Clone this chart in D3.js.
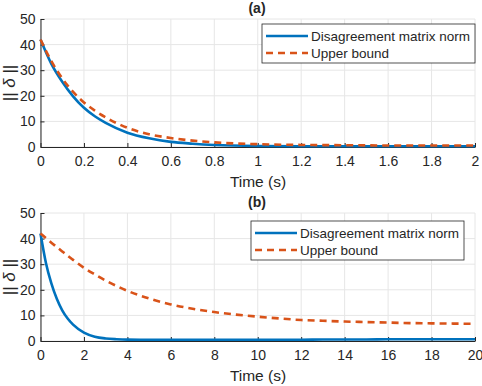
<!DOCTYPE html>
<html>
<head>
<meta charset="utf-8">
<script src="https://cdn.jsdelivr.net/npm/d3@7"></script>
<style>
  body { margin: 0; background: #fff; }
  text { font-family: "Liberation Sans", Arial, sans-serif; fill: #262626; }
</style>
</head>
<body>
<script>
// Two panels: disagreement matrix norm vs its upper bound

// panel (a) samples, 0..2 s
let timeA  = [0, 0.05, 0.1, 0.15, 0.2, 0.25, 0.3, 0.4, 0.5, 0.6, 0.7, 0.8, 1.0, 1.2, 1.4, 1.6, 1.8, 2.0];
let normA  = [42, 32.5, 25.5, 19.8, 15.3, 12, 9.4, 5.6, 3.4, 2.0, 1.3, 0.8, 0.4, 0.3, 0.3, 0.3, 0.3, 0.3];
let boundA = [42, 33.5, 26.8, 21.5, 17.4, 14.2, 11.6, 7.5, 5.0, 3.5, 2.5, 1.8, 1.1, 0.8, 0.7, 0.6, 0.6, 0.6];

// panel (b) samples, 0..20 s
let timeB  = [0, 0.25, 0.5, 0.75, 1, 1.25, 1.5, 2, 2.5, 3, 3.5, 4, 5, 6, 7, 8, 9, 10, 11, 12, 13, 14, 15, 16, 17, 18, 19, 20];
let normB  = [42, 30.5, 22.5, 16.5, 12, 8.8, 6.4, 3.3, 1.7, 1.0, 0.7, 0.55, 0.5, 0.5, 0.5, 0.5, 0.5, 0.5, 0.5, 0.5, 0.6, 0.6, 0.6, 0.7, 0.7, 0.7, 0.7, 0.7];
let boundB = [42, 40.2, 38.4, 36.7, 35, 33.3, 31.7, 28.6, 26, 23.6, 21.5, 19.6, 16.6, 14.3, 12.6, 11.3, 10.3, 9.5, 8.8, 8.2, 7.9, 7.6, 7.4, 7.2, 7.0, 6.9, 6.8, 6.7];

let yTicks = [0, 10, 20, 30, 40, 50];
let xTicksA = [0, 0.2, 0.4, 0.6, 0.8, 1, 1.2, 1.4, 1.6, 1.8, 2];
let xTicksB = [0, 2, 4, 6, 8, 10, 12, 14, 16, 18, 20];
let seriesNames = ["Disagreement matrix norm", "Upper bound"];

let svgWidth = 482;
let svgHeight = 386;
let blue = "#0072BD";
let orange = "#D95319";

let svg = d3.select("body")
            .append("svg")
            .attr("width", svgWidth)
            .attr("height", svgHeight);

function drawPanel(opt) {
    let x = d3.scaleLinear().domain(opt.xDomain).range([40.5, 475]);
    let y = d3.scaleLinear().domain([0, 50]).range([opt.bottom, opt.top]);
    let g = svg.append("g");

    // grid
    g.selectAll(".gx").data(opt.xTicks).enter().append("line")
     .attr("x1", d => x(d)).attr("x2", d => x(d))
     .attr("y1", y(0)).attr("y2", y(50))
     .attr("stroke", "#e6e6e6");
    g.selectAll(".gy").data(yTicks).enter().append("line")
     .attr("x1", x.range()[0]).attr("x2", x.range()[1])
     .attr("y1", d => y(d)).attr("y2", d => y(d))
     .attr("stroke", "#e6e6e6");

    // axes (ticks pointing inward)
    let xAxis = g.append("g")
                 .attr("transform", `translate(0, ${y(0)})`)
                 .call(d3.axisBottom(x).tickValues(opt.xTicks).tickSizeInner(-4).tickSizeOuter(0).tickPadding(9)
                         .tickFormat(d3.format("~g")));
    let yAxis = g.append("g")
                 .attr("transform", `translate(${x.range()[0]}, 0)`)
                 .call(d3.axisLeft(y).tickValues(yTicks).tickSizeInner(-4).tickSizeOuter(0).tickPadding(5));
    [xAxis, yAxis].forEach(a => {
        a.select(".domain").attr("stroke", "#262626");
        a.selectAll(".tick line").attr("stroke", "#262626");
        a.selectAll("text").attr("font-size", "14px").attr("fill", "#262626")
         .attr("font-family", "Liberation Sans, Arial, sans-serif");
    });

    // lines
    let line = d3.line().x((d, i) => x(opt.time[i])).y(d => y(d)).curve(d3.curveMonotoneX);
    g.append("path")
     .datum(opt.norm)
     .attr("d", line)
     .attr("fill", "none")
     .attr("stroke", blue)
     .attr("stroke-width", 2.6);
    g.append("path")
     .datum(opt.bound)
     .attr("d", line)
     .attr("fill", "none")
     .attr("stroke", orange)
     .attr("stroke-width", 2.6)
     .attr("stroke-dasharray", "7,5");

    // title
    g.append("text")
     .attr("x", 257).attr("y", opt.top - 6)
     .attr("text-anchor", "middle")
     .attr("font-size", "14px").attr("font-weight", "bold")
     .text(opt.title);

    // axis labels
    g.append("text")
     .attr("x", 258).attr("y", opt.bottom + 40)
     .attr("text-anchor", "middle")
     .attr("font-size", "15.5px")
     .text("Time (s)");
    let yl = g.append("text")
              .attr("transform", `translate(15, ${(opt.top + opt.bottom) / 2}) rotate(-90)`)
              .attr("text-anchor", "middle")
              .attr("font-size", "17px");
    yl.append("tspan").text("|| ");
    yl.append("tspan").attr("font-style", "italic").text("δ");
    yl.append("tspan").text(" ||");

    // legend
    let lg = g.append("g").attr("transform", `translate(${opt.legend[0]}, ${opt.legend[1]})`);
    lg.append("rect")
      .attr("width", 213).attr("height", 39)
      .attr("fill", "#fff").attr("stroke", "#262626").attr("stroke-width", 0.8);
    seriesNames.forEach((name, i) => {
        lg.append("line")
          .attr("x1", 4).attr("x2", 46)
          .attr("y1", 12 + i * 17).attr("y2", 12 + i * 17)
          .attr("stroke", i === 0 ? blue : orange)
          .attr("stroke-width", 2.6)
          .attr("stroke-dasharray", i === 0 ? null : "7,5");
        lg.append("text")
          .attr("x", 49).attr("y", 17 + i * 17)
          .attr("font-size", "13.5px")
          .text(name);
    });
}

drawPanel({ xDomain: [0, 2], xTicks: xTicksA, time: timeA, norm: normA, bound: boundA,
            top: 19, bottom: 147, title: "(a)", legend: [262, 24] });
drawPanel({ xDomain: [0, 20], xTicks: xTicksB, time: timeB, norm: normB, bound: boundB,
            top: 213, bottom: 341, title: "(b)", legend: [251, 221] });
</script>
</body>
</html>
